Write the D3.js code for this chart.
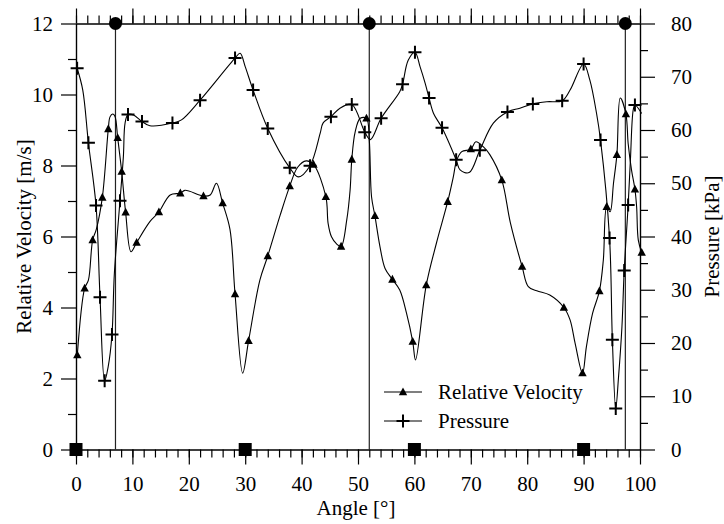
<!DOCTYPE html>
<html>
<head>
<meta charset="utf-8">
<script src="https://cdn.jsdelivr.net/npm/d3@7/dist/d3.min.js"></script>
<style>
  html, body { margin: 0; padding: 0; background: #fff; }
  svg { display: block; }
</style>
</head>
<body>
<svg id="chart" width="724" height="524"></svg>
<script>
// ---------------- DATA ----------------
const velAngle = [0.23,1.53,2.2,2.95,3.6,4.67,5.73,6.03,6.5,6.9,7.39,8.1,8.8,9.75,10.75,13.1,14.7,16.7,18.5,19.3,22.6,23.8,24.9,26,27.3,28.2,29.55,30.6,32.6,34,36.2,37.9,39.3,40.8,42.1,44.3,44.7,45.3,46.2,47,48,48.6,48.9,49.5,50.4,51.5,52,52.4,53,53.9,54.8,56.1,57.4,58.6,59.7,60.2,62.1,63.9,65.9,66.9,67.5,68.4,70,70.9,72.2,73.4,75.5,77,79.1,80.2,81.7,84,86.5,87.6,88.5,89.8,90.5,91.6,92.8,93.5,94.1,94.7,95.3,95.9,96.5,97.5,97.9,98.5,99.1,99.4,99.7,100.3];
const velValue = [2.66,4.54,4.77,5.9,6.2,7.1,9.03,9.37,9.45,9.39,8.78,7.83,6.68,5.57,5.83,6.42,6.69,7.17,7.22,7.3,7.14,7.17,7.5,6.94,6.2,4.38,2.15,3.06,4.77,5.45,6.6,7.42,7.95,8.13,8.03,7.12,6.37,5.99,5.79,5.72,6.46,7.31,8.17,8.95,9.33,9.33,8.72,7.12,6.58,5.71,5.1,4.79,4.49,3.84,3.04,2.52,4.63,5.81,6.98,7.68,8.15,8.39,8.46,8.67,8.53,8.3,7.59,6.4,5.15,4.59,4.47,4.35,4.0,3.65,2.99,2.15,2.9,3.84,4.46,5.34,6.84,6.7,7.5,8.3,9.9,9.45,8.62,7.87,7.33,6.84,5.9,5.55];
const velMarked = [1,1,0,1,0,1,1,0,0,0,1,1,1,0,1,0,1,0,1,0,1,0,0,1,0,1,0,1,0,1,0,1,0,0,1,1,0,0,0,1,0,0,1,0,0,1,0,0,1,0,0,1,0,0,1,0,1,0,1,0,0,0,1,0,0,0,1,0,1,0,0,0,1,0,0,1,0,0,1,0,1,0,0,1,0,1,0,0,1,0,0,1];

const presAngle = [0.2,1.2,2.2,3.55,4.26,5.08,5.7,6.38,6.8,7.8,8.4,8.7,9.22,10.2,11.7,13.1,17.1,18.7,22,28.2,29.1,30.0,31.4,34,37.9,39.4,41.5,43.3,43.8,45.2,46.8,48.9,51.2,52.2,54.1,57.4,57.9,58.9,60.1,61.0,61.9,62.6,63.4,64.9,67.4,68.1,69.7,71.6,74,76.5,78.7,81,83.5,86.2,87.6,90,91.1,92.3,93,94.6,95.1,95.7,96.2,96.8,97.2,97.9,98.3,98.8,99.1,100.3];
const presValue = [71.6,67.5,57.6,45.8,28.6,12.9,15.5,21.6,33.0,46.7,55.0,61.3,62.9,62.8,61.6,60.8,61.3,61.9,65.6,73.5,74.4,71.9,67.5,60.3,52.9,51.2,53.3,59.4,61.3,62.5,64.1,64.8,59.6,58.2,62.2,67.2,68.6,73.1,74.6,71.9,68.8,66.0,63.1,60.4,54.4,52.5,52.0,56.2,61.3,63.4,64.1,64.9,65.3,65.5,67.5,72.4,69.4,63.1,58.1,39.7,20.6,7.7,13.7,23.1,33.6,45.9,54.4,63.8,64.7,63.1];
const presMarked = [1,0,1,1,1,1,0,1,0,1,0,0,1,0,1,0,1,0,1,1,0,0,1,1,1,0,1,0,0,1,0,1,1,0,1,0,1,0,1,0,0,1,0,1,1,0,0,1,0,1,0,1,0,1,0,1,0,0,1,1,1,1,0,0,1,1,0,0,1,0];

const refLines = [7.0, 52.0, 97.4];
const squareAngles = [0, 30, 60, 90];

const xMajor = [0,10,20,30,40,50,60,70,80,90,100];
const xMinor = d3.range(0, 101, 2);
const vMajor = [0,2,4,6,8,10,12];
const vMinor = [1,3,5,7,9,11];
const pMajor = [0,10,20,30,40,50,60,70,80];
const pMinor = [5,15,25,35,45,55,65,75];

const legendLabels = ["Relative Velocity", "Pressure"];
const xTitle = "Angle [°]";
const vTitle = "Relative Velocity [m/s]";
const pTitle = "Pressure [kPa]";

// ---------------- LAYOUT ----------------
const FONT = "'Liberation Serif', Tinos, 'Times New Roman', Times, 'Nimbus Roman', 'Nimbus Roman No9 L', 'DejaVu Serif', serif";
const L = 76, R = 640, T = 23.5, B = 449.5;
const svg = d3.select("#chart").style("font-family", FONT);
const x = d3.scaleLinear().domain([0, 100]).range([L, R]);
const yv = d3.scaleLinear().domain([0, 12]).range([B, T]);
const yp = d3.scaleLinear().domain([0, 80]).range([B, T]);
const FS = 21;

function styleAxis(g) {
  g.attr("font-family", null).attr("font-size", null);
  g.select(".domain").attr("stroke", "#000").attr("stroke-width", 1.2);
  g.selectAll(".tick line").attr("stroke", "#000").attr("stroke-width", 1.2);
  g.selectAll("text").style("font-size", FS + "px").style("font-family", FONT).attr("fill", "#000");
}

svg.append("g").attr("transform", `translate(0,${B})`)
  .call(d3.axisBottom(x).tickValues(xMinor).tickSize(8).tickSizeOuter(0).tickFormat(""))
  .call(styleAxis);
svg.append("g").attr("transform", `translate(0,${B})`)
  .call(d3.axisBottom(x).tickValues(xMajor).tickSize(15).tickSizeOuter(0).tickPadding(12).tickFormat(d3.format("d")))
  .call(styleAxis);
svg.append("g").attr("transform", `translate(0,${T})`)
  .call(d3.axisTop(x).tickValues(xMinor).tickSize(8).tickSizeOuter(0).tickFormat(""))
  .call(styleAxis);
svg.append("g").attr("transform", `translate(0,${T})`)
  .call(d3.axisTop(x).tickValues(xMajor).tickSize(15).tickSizeOuter(0).tickFormat(""))
  .call(styleAxis);
svg.append("g").attr("transform", `translate(${L},0)`)
  .call(d3.axisLeft(yv).tickValues(vMinor).tickSize(8).tickSizeOuter(0).tickFormat(""))
  .call(styleAxis);
svg.append("g").attr("transform", `translate(${L},0)`)
  .call(d3.axisLeft(yv).tickValues(vMajor).tickSize(15).tickSizeOuter(0).tickPadding(8).tickFormat(d3.format("d")))
  .call(styleAxis);
svg.append("g").attr("transform", `translate(${R},0)`)
  .call(d3.axisRight(yp).tickValues(pMinor).tickSize(8).tickSizeOuter(0).tickFormat(""))
  .call(styleAxis);
svg.append("g").attr("transform", `translate(${R},0)`)
  .call(d3.axisRight(yp).tickValues(pMajor).tickSize(15).tickSizeOuter(0).tickPadding(16).tickFormat(d3.format("d")))
  .call(styleAxis);

function txt(sel) { return sel.style("font-family", FONT).style("font-size", FS + "px").attr("fill", "#000"); }

svg.append("text").attr("x", (L + R) / 2 - 2).attr("y", 515).attr("text-anchor", "middle")
  .call(txt).text(xTitle);
svg.append("text").attr("transform", `translate(31,${(T + B) / 2}) rotate(-90)`)
  .attr("text-anchor", "middle").call(txt).text(vTitle);
svg.append("text").attr("transform", `translate(719,${(T + B) / 2}) rotate(-90)`)
  .attr("text-anchor", "middle").call(txt).text(pTitle);

const refG = svg.append("g");
refG.selectAll("line").data(refLines).join("line")
  .attr("x1", d => x(d)).attr("x2", d => x(d))
  .attr("y1", yv(0)).attr("y2", yv(12))
  .attr("stroke", "#222").attr("stroke-width", 1.2);
refG.selectAll("circle").data(refLines).join("circle")
  .attr("cx", d => x(d)).attr("cy", yv(12)).attr("r", 6.5).attr("fill", "#000");
refG.selectAll("rect").data(squareAngles).join("rect")
  .attr("x", d => x(d) - 6.5).attr("y", yv(0) - 6.5)
  .attr("width", 13).attr("height", 13).attr("fill", "#000");

const velData = velAngle.map((a, i) => ({ a, v: velValue[i], m: velMarked[i] }));
const presData = presAngle.map((a, i) => ({ a, v: presValue[i], m: presMarked[i] }));

const velLine = d3.line().x(d => x(d.a)).y(d => yv(d.v)).curve(d3.curveCatmullRom.alpha(0.5));
const presLine = d3.line().x(d => x(d.a)).y(d => yp(d.v)).curve(d3.curveCatmullRom.alpha(0.5));

svg.append("path").datum(presData).attr("d", presLine)
  .attr("fill", "none").attr("stroke", "#000").attr("stroke-width", 1.1);
svg.append("path").datum(velData).attr("d", velLine)
  .attr("fill", "none").attr("stroke", "#000").attr("stroke-width", 1.1);

const triPath = "M0,-4.6L4.2,3.2L-4.2,3.2Z";
const plusPath = "M-6.5,0H6.5M0,-6.5V6.5";

svg.append("g").selectAll("path").data(velData.filter(d => d.m)).join("path")
  .attr("transform", d => `translate(${x(d.a)},${yv(d.v)})`)
  .attr("d", triPath).attr("fill", "#000");
svg.append("g").selectAll("path").data(presData.filter(d => d.m)).join("path")
  .attr("transform", d => `translate(${x(d.a)},${yp(d.v)})`)
  .attr("d", plusPath).attr("stroke", "#000").attr("stroke-width", 2).attr("fill", "none");

const lg = svg.append("g");
const legY = [392, 421];
lg.selectAll("line").data(legendLabels).join("line")
  .attr("x1", 384).attr("x2", 422).attr("y1", (d, i) => legY[i]).attr("y2", (d, i) => legY[i])
  .attr("stroke", "#000").attr("stroke-width", 1.1);
lg.append("path").attr("transform", `translate(403,${legY[0]})`).attr("d", triPath).attr("fill", "#000");
lg.append("path").attr("transform", `translate(403,${legY[1]})`).attr("d", plusPath)
  .attr("stroke", "#000").attr("stroke-width", 2);
lg.selectAll("text").data(legendLabels).join("text")
  .attr("x", 438).attr("y", (d, i) => legY[i]).attr("dy", "0.35em")
  .call(txt).text(d => d);
</script>
</body>
</html>
